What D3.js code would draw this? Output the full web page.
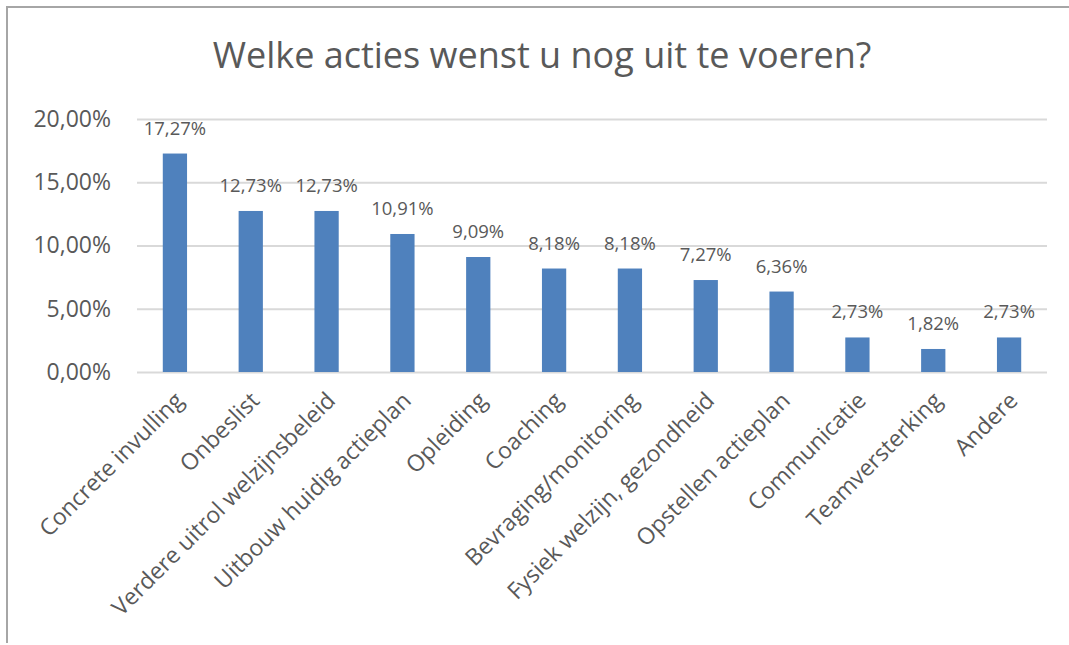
<!DOCTYPE html>
<html>
<head>
<meta charset="utf-8">
<script src="https://cdn.jsdelivr.net/npm/d3@7"></script>
<style>
  html, body { margin: 0; padding: 0; background: #fff; }
  svg { display: block; font-family: "Open Sans", "Noto Sans", sans-serif; }
</style>
</head>
<body>
<svg id="chart" width="1069" height="645"></svg>
<script>
const title = "Welke acties wenst u nog uit te voeren?";
const categories = [
  "Concrete invulling", "Onbeslist", "Verdere uitrol welzijnsbeleid",
  "Uitbouw huidig actieplan", "Opleiding", "Coaching",
  "Bevraging/monitoring", "Fysiek welzijn, gezondheid", "Opstellen actieplan",
  "Communicatie", "Teamversterking", "Andere"
];
const values = [17.27, 12.73, 12.73, 10.91, 9.09, 8.18, 8.18, 7.27, 6.36, 2.73, 1.82, 2.73];
const yTicks = [0, 5, 10, 15, 20];

const locale = d3.formatLocale({ decimal: ",", thousands: ".", grouping: [3], currency: ["€", ""] });
const fmt = locale.format(".2f");

const svg = d3.select("#chart");
const W = 1069, H = 645;
const margin = { left: 137, right: 22, top: 119, bottom: 273 };

// frame
svg.append("path")
  .attr("d", `M7,${H - 2} V7 H${W}`)
  .attr("fill", "none").attr("stroke", "#a6a6a6").attr("stroke-width", 2);

const x = d3.scaleBand().domain(categories)
  .range([margin.left, W - margin.right]).paddingInner(0.68).paddingOuter(0.34);
const y = d3.scaleLinear().domain([0, 20]).range([H - margin.bottom, margin.top]);

// gridlines
const grid = svg.append("g")
  .attr("transform", `translate(${margin.left},0)`)
  .call(d3.axisLeft(y).tickValues(yTicks).tickSize(-(W - margin.right - margin.left)).tickFormat(""));
grid.select(".domain").remove();
grid.selectAll("line").attr("stroke", "#d9d9d9").attr("stroke-width", 2);

// y tick labels
const yAxis = svg.append("g")
  .attr("transform", `translate(${margin.left},0)`)
  .call(d3.axisLeft(y).tickValues(yTicks).tickSize(0).tickPadding(26).tickFormat(d => fmt(d) + "%"));
yAxis.select(".domain").remove();
yAxis.selectAll("text").attr("fill", "#595959").style("font-size", "23px").attr("font-family", "Open Sans");

// bars
svg.append("g").selectAll("rect").data(values).join("rect")
  .attr("x", (d, i) => x(categories[i]))
  .attr("y", d => y(d))
  .attr("width", x.bandwidth())
  .attr("height", d => y(0) - y(d))
  .attr("fill", "#4f81bd");

// data labels
svg.append("g").selectAll("text").data(values).join("text")
  .attr("x", (d, i) => x(categories[i]) + x.bandwidth() / 2)
  .attr("y", d => y(d) - 19)
  .attr("text-anchor", "middle")
  .attr("fill", "#595959")
  .style("font-size", "18.5px")
  .text(d => fmt(d) + "%");

// x category labels
const xAxis = svg.append("g")
  .attr("transform", `translate(0,${y(0)})`)
  .call(d3.axisBottom(x).tickSize(0).tickFormat(d => d));
xAxis.select(".domain").remove();
xAxis.selectAll("text")
  .attr("fill", "#595959")
  .style("font-size", "23px")
  .attr("font-family", "Open Sans")
  .attr("text-anchor", "end")
  .attr("dy", null)
  .attr("y", 0)
  .attr("transform", "translate(10,30) rotate(-45)");

// title
svg.append("text")
  .attr("x", 542).attr("y", 68)
  .attr("text-anchor", "middle")
  .attr("fill", "#595959")
  .style("font-size", "36px")
  .text(title);
</script>
</body>
</html>
